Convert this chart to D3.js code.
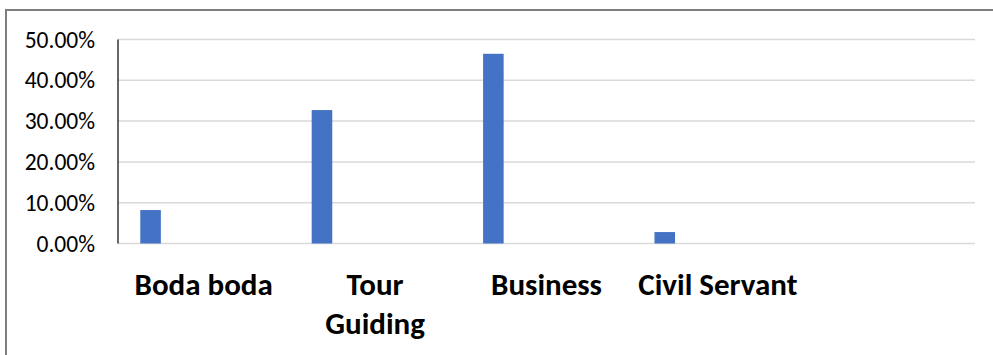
<!DOCTYPE html>
<html>
<head>
<meta charset="utf-8">
<script src="https://cdn.jsdelivr.net/npm/d3@7"></script>
<style>
  html, body { margin: 0; padding: 0; background: #fff; }
  svg { display: block; }
</style>
</head>
<body>
<script>
// ---- data ----
const categories = ["Boda boda", "Tour Guiding", "Business", "Civil Servant", ""];
const categoryLines = [["Boda boda"], ["Tour", "Guiding"], ["Business"], ["Civil Servant"], []];
const values = [0.082, 0.327, 0.465, 0.028, null];
const yTicks = [0, 0.1, 0.2, 0.3, 0.4, 0.5];

// ---- layout ----
const W = 993, H = 355;
const plot = { left: 118, right: 975, top: 39.5, bottom: 243.5 };
const FONT = "Carlito, Calibri, Lato, 'Open Sans', sans-serif";

const svg = d3.select("body").append("svg").attr("width", W).attr("height", H);

svg.append("rect").attr("x", 0).attr("y", 0).attr("width", W).attr("height", H).attr("fill", "#fff");
// outer frame
svg.append("rect")
  .attr("x", 6).attr("y", 10).attr("width", W + 20).attr("height", H + 20)
  .attr("fill", "none").attr("stroke", "#7f7f7f").attr("stroke-width", 2);

const x = d3.scaleBand().domain(categories).range([plot.left, plot.right]).padding(0);
const y = d3.scaleLinear().domain([0, 0.5]).range([plot.bottom, plot.top]);

// gridlines
svg.append("g").selectAll("line").data(yTicks).join("line")
  .attr("x1", plot.left).attr("x2", plot.right)
  .attr("y1", d => y(d)).attr("y2", d => y(d))
  .attr("stroke", "#d9d9d9").attr("stroke-width", 1.5);

// y axis labels
const yAxis = d3.axisLeft(y).tickValues(yTicks).tickFormat(d3.format(".2%")).tickSize(0).tickPadding(23);
const gy = svg.append("g").attr("transform", `translate(${plot.left},0)`).call(yAxis);
gy.select(".domain").remove();
gy.selectAll("text")
  .attr("font-family", FONT)
  .attr("font-size", 23.5).attr("fill", "#000");

// y axis line
svg.append("line")
  .attr("x1", plot.left).attr("x2", plot.left)
  .attr("y1", y(0.5)).attr("y2", y(0))
  .attr("stroke", "#000").attr("stroke-width", 1.2);

// bars
const data = categories.map((c, i) => ({ c, v: values[i] })).filter(d => d.v != null);
svg.append("g").selectAll("rect").data(data).join("rect")
  .attr("x", d => x(d.c) + x.bandwidth() * 0.13)
  .attr("width", x.bandwidth() * 0.12)
  .attr("y", d => y(d.v))
  .attr("height", d => y(0) - y(d.v))
  .attr("fill", "#4472c4");

// category labels
const lg = svg.append("g");
categories.forEach((c, i) => {
  const t = lg.append("text")
    .attr("x", x(c) + x.bandwidth() / 2)
    .attr("y", 295)
    .attr("text-anchor", "middle")
    .attr("font-family", FONT)
    .attr("font-weight", "bold")
    .attr("font-size", 31)
    .attr("fill", "#000");
  categoryLines[i].forEach((line, j) => {
    t.append("tspan").attr("x", x(c) + x.bandwidth() / 2).attr("dy", j === 0 ? 0 : 38.5).text(line);
  });
});
</script>
</body>
</html>
